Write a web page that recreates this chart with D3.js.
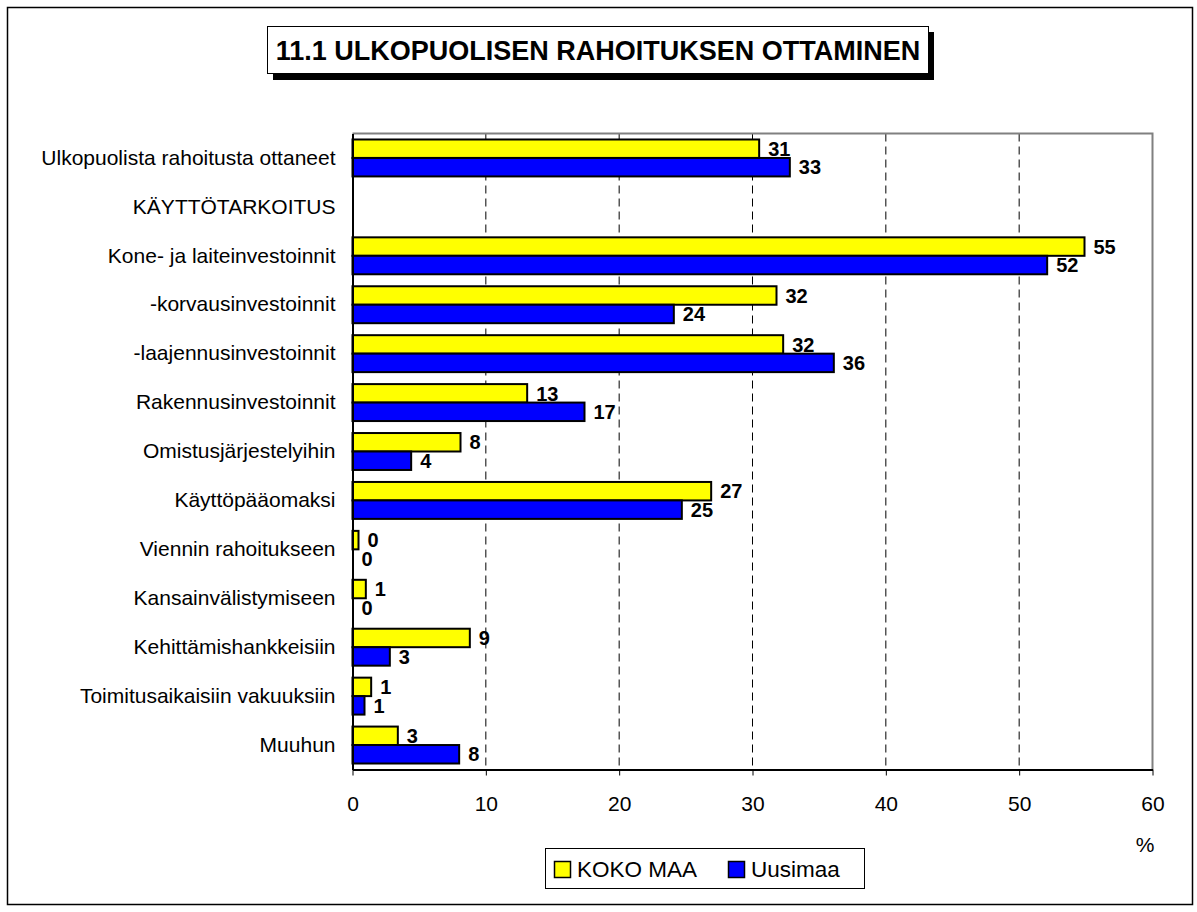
<!DOCTYPE html>
<html>
<head>
<meta charset="utf-8">
<script src="https://cdn.jsdelivr.net/npm/d3@7"></script>
<style>
  body { margin: 0; background: #fff; }
  text { font-family: Arial, "Liberation Sans", sans-serif; }
</style>
</head>
<body>
<div id="chart"></div>
<script>
var title = "11.1 ULKOPUOLISEN RAHOITUKSEN OTTAMINEN";
var categories = ["Ulkopuolista rahoitusta ottaneet", "KÄYTTÖTARKOITUS", "Kone- ja laiteinvestoinnit",
  "-korvausinvestoinnit", "-laajennusinvestoinnit", "Rakennusinvestoinnit", "Omistusjärjestelyihin",
  "Käyttöpääomaksi", "Viennin rahoitukseen", "Kansainvälistymiseen", "Kehittämishankkeisiin",
  "Toimitusaikaisiin vakuuksiin", "Muuhun"];
var series_names = ["KOKO MAA", "Uusimaa"];
var koko_maa = [30.5, null, 54.9, 31.8, 32.3, 13.1, 8.1, 26.9, 0.45, 1.0, 8.8, 1.4, 3.4];
var uusimaa = [32.8, null, 52.1, 24.1, 36.1, 17.4, 4.4, 24.7, 0, 0, 2.8, 0.9, 8.0];
var x_ticks = [0, 10, 20, 30, 40, 50, 60];
var unit_label = "%";

var series_colors = ["#FFFF00", "#0000FF"];
var W = 1197, H = 912;
var plot = {left: 352.5, right: 1152.5, top: 133.5, bottom: 769.5};

var svg = d3.select("#chart").append("svg")
  .attr("width", W).attr("height", H);

// outer frame
svg.append("rect")
  .attr("x", 7.5).attr("y", 7.5)
  .attr("width", 1185).attr("height", 897)
  .attr("fill", "#fff").attr("stroke", "#000").attr("stroke-width", 1.5);

// title box with shadow
svg.append("rect")
  .attr("x", 273).attr("y", 32).attr("width", 661).attr("height", 48)
  .attr("fill", "#000");
svg.append("rect")
  .attr("x", 267.5).attr("y", 26.5).attr("width", 661).attr("height", 47)
  .attr("fill", "#fff").attr("stroke", "#000").attr("stroke-width", 1);
svg.append("text")
  .attr("x", 598).attr("y", 60)
  .attr("text-anchor", "middle")
  .style("font-size", "27px").style("font-weight", "bold")
  .text(title);

// scales
var x = d3.scaleLinear().domain([0, 60]).range([plot.left, plot.right]);
var y = d3.scaleBand().domain(categories).range([plot.top, plot.bottom])
  .paddingInner(0.245).paddingOuter(0.1225);
var y_sub = d3.scaleBand().domain(series_names).range([0, y.bandwidth()]);

// dashed gridlines
svg.append("g")
  .selectAll("line")
  .data(x_ticks.filter(function(d){ return d > 0 && d < 60; }))
  .enter().append("line")
  .attr("x1", function(d){ return x(d); })
  .attr("x2", function(d){ return x(d); })
  .attr("y1", plot.top).attr("y2", plot.bottom)
  .attr("stroke", "#000").attr("stroke-width", 1)
  .style("stroke-dasharray", "8, 5");

// plot area top and right border (grey)
svg.append("path")
  .attr("d", "M" + plot.left + "," + plot.top + "H" + plot.right + "V" + plot.bottom)
  .attr("fill", "none").attr("stroke", "#808080").attr("stroke-width", 2);

// bars
var table = categories.map(function(c, i){ return {cat: c, vals: [koko_maa[i], uusimaa[i]]}; });
var groups = svg.append("g").selectAll("g")
  .data(table).enter().append("g")
  .attr("transform", function(d){ return "translate(0," + y(d.cat) + ")"; });

groups.selectAll("rect")
  .data(function(d){ return d.vals.map(function(v, j){ return {v: v, s: series_names[j], j: j}; })
    .filter(function(e){ return e.v !== null; }); })
  .enter().append("rect")
  .attr("x", x(0))
  .attr("y", function(e){ return y_sub(e.s); })
  .attr("width", function(e){ return x(e.v) - x(0); })
  .attr("height", y_sub.bandwidth())
  .attr("fill", function(e){ return series_colors[e.j]; })
  .attr("stroke", "#000").attr("stroke-width", 2);

groups.selectAll("text")
  .data(function(d){ return d.vals.map(function(v, j){ return {v: v, s: series_names[j]}; })
    .filter(function(e){ return e.v !== null; }); })
  .enter().append("text")
  .attr("x", function(e){ return x(e.v) + 9; })
  .attr("y", function(e){ return y_sub(e.s) + y_sub.bandwidth() / 2; })
  .attr("dy", "0.36em")
  .style("font-size", "20px").style("font-weight", "bold")
  .text(function(e){ return Math.round(e.v); });

// x axis
var xAxis = svg.append("g")
  .attr("transform", "translate(0," + plot.bottom + ")")
  .call(d3.axisBottom(x).tickValues(x_ticks).tickSize(6).tickPadding(21).tickSizeOuter(0));
xAxis.select(".domain").attr("stroke", "#000").attr("stroke-width", 2);
xAxis.selectAll(".tick line").attr("stroke", "#000");
xAxis.selectAll(".tick text").style("font-size", "21px").style("font-family", "Arial, 'Liberation Sans', sans-serif");

// y axis (categories)
var yAxis = svg.append("g")
  .attr("transform", "translate(" + plot.left + ",0)")
  .call(d3.axisLeft(y).tickSize(0).tickPadding(17));
yAxis.select(".domain").attr("stroke", "#000").attr("stroke-width", 2);
yAxis.selectAll(".tick text").style("font-size", "21px").style("font-family", "Arial, 'Liberation Sans', sans-serif");

// unit label
svg.append("text")
  .attr("x", 1145).attr("y", 852)
  .attr("text-anchor", "middle")
  .style("font-size", "21px")
  .text(unit_label);

// legend
var legend = svg.append("g");
legend.append("rect")
  .attr("x", 545.5).attr("y", 848.5).attr("width", 319).attr("height", 40)
  .attr("fill", "#fff").attr("stroke", "#000").attr("stroke-width", 1);
var legend_x = [554, 728];
series_names.forEach(function(name, i){
  legend.append("rect")
    .attr("x", legend_x[i] + 0.5).attr("y", 861.5).attr("width", 16).attr("height", 16)
    .attr("fill", series_colors[i]).attr("stroke", "#000").attr("stroke-width", 1.5);
  legend.append("text")
    .attr("x", legend_x[i] + 23).attr("y", 877)
    .style("font-size", "22.5px")
    .text(name);
});
</script>
</body>
</html>
